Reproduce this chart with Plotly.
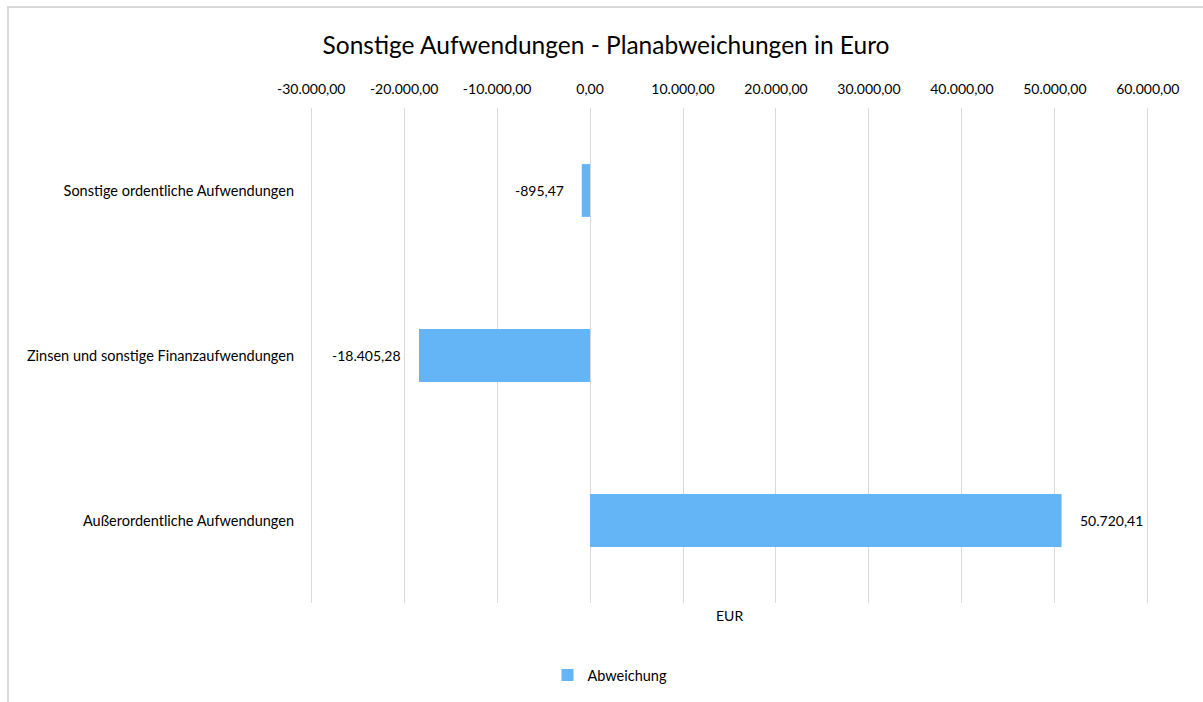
import plotly.graph_objects as go

categories = ["Sonstige ordentliche Aufwendungen",
              "Zinsen und sonstige Finanzaufwendungen",
              "Außerordentliche Aufwendungen"]
values = [-895.47, -18405.28, 50720.41]
tick_vals = [-30000, -20000, -10000, 0, 10000, 20000, 30000, 40000, 50000, 60000]
tick_text = ["-30.000,00", "-20.000,00", "-10.000,00", "0,00", "10.000,00",
             "20.000,00", "30.000,00", "40.000,00", "50.000,00", "60.000,00"]
value_labels = ["-895,47", "-18.405,28", "50.720,41"]

W, H = 1203, 702
L, R, T, B = 310, 54, 108, 99
pw, ph = W - L - R, H - T - B

def px_x(x):
    return (x - L) / pw

def px_y(y):
    return (H - B - y) / ph

FONT = "Lato, Calibri, Carlito, sans-serif"

fig = go.Figure(go.Bar(
    y=categories, x=values, orientation="h",
    name="Abweichung",
    marker=dict(color="#64B5F6", line=dict(width=0)),
    width=0.32,
))

annotations = []
for cat, v, lab in zip(categories, values, value_labels):
    annotations.append(dict(
        x=v, y=cat, xref="x", yref="y", text=lab, showarrow=False,
        xanchor="right" if v < 0 else "left", yanchor="middle",
        xshift=-16 if v < 0 else 16,
        font=dict(size=14, color="#000000", family=FONT)))
annotations.append(dict(text="EUR", xref="paper", yref="paper", x=0.5, y=px_y(615),
                        xanchor="center", yanchor="middle", showarrow=False,
                        font=dict(size=14, color="#000000", family=FONT)))

fig.update_layout(
    width=W, height=H,
    margin=dict(l=L, r=R, t=T, b=B, autoexpand=False),
    paper_bgcolor="white", plot_bgcolor="white",
    font=dict(family=FONT, size=14, color="#000000"),
    title=dict(text="Sonstige Aufwendungen - Planabweichungen in Euro",
               x=606 / W, xanchor="center", y=1 - 45 / H, yanchor="middle",
               font=dict(size=24.5, color="#000000", family=FONT)),
    xaxis=dict(side="top", range=[-30130, 60130], tickvals=tick_vals, ticktext=tick_text,
               showgrid=True, gridcolor="#D9D9D9", gridwidth=1,
               zeroline=False, showline=False, ticks="",
               tickfont=dict(size=14, color="#000000"), ticklabelstandoff=10),
    yaxis=dict(categoryorder="array", categoryarray=categories, autorange="reversed",
               showgrid=False, zeroline=False, showline=False, ticks="",
               ticklabelstandoff=15, tickfont=dict(size=14.5, color="#000000")),
    showlegend=True,
    legend=dict(orientation="h", x=px_x(610), xanchor="center", y=px_y(675), yanchor="middle",
                font=dict(size=14.5, color="#000000"), itemwidth=30),
    annotations=annotations,
    shapes=[dict(type="rect", xref="paper", yref="paper",
                 x0=px_x(8), x1=px_x(W + 5), y0=px_y(H + 5), y1=px_y(7),
                 line=dict(color="#D9D9D9", width=2), layer="below")],
)

fig.write_html("out.html", config={"displayModeBar": False},
               post_script="document.body.style.margin='0';document.body.style.overflow='hidden';")
